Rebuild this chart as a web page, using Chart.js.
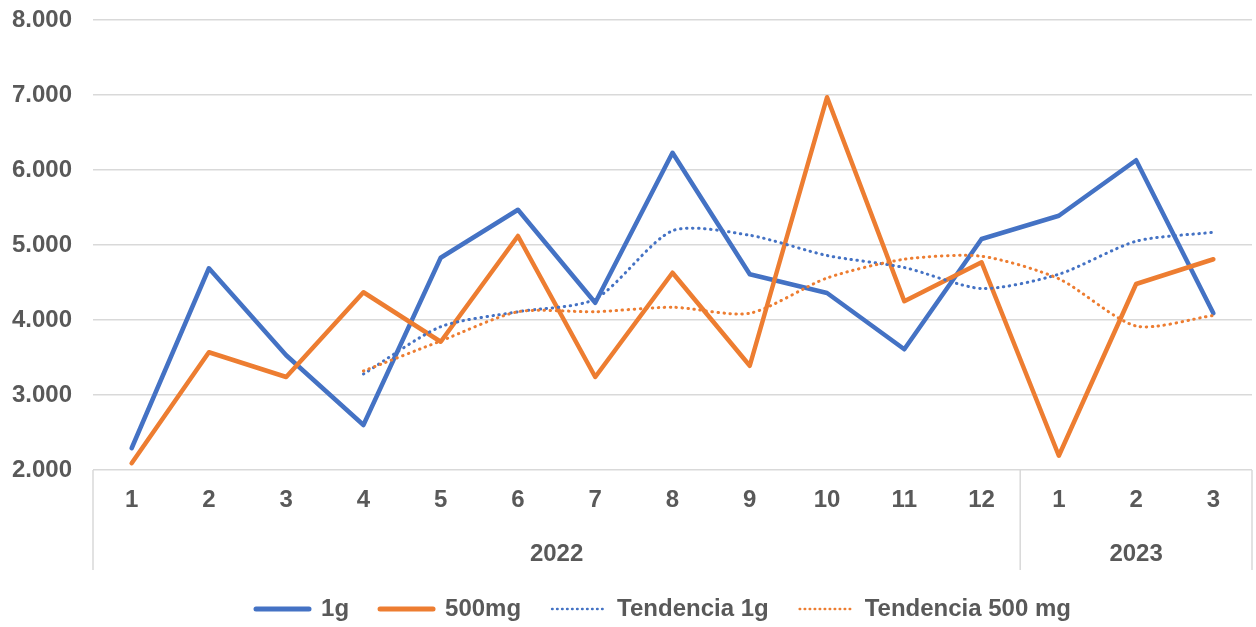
<!DOCTYPE html>
<html><head><meta charset="utf-8">
<script src="https://cdn.jsdelivr.net/npm/chart.js@4.4.0/dist/chart.umd.min.js"></script>
<style>html,body{margin:0;padding:0;background:#fff;}#wrap{width:1256px;height:627px;}</style>
</head><body><div id="wrap"><canvas id="c" width="1256" height="627"></canvas></div>
<script>
// ---- data ----
const months = ['1','2','3','4','5','6','7','8','9','10','11','12','1','2','3'];
const yearLabels = ['2022','2023'];
const yearSpans = [12, 3];
const series1g = [2290, 4690, 3530, 2600, 4830, 5470, 4230, 6230, 4610, 4360, 3610, 5080, 5390, 6130, 4090];
const series500mg = [2090, 3570, 3240, 4370, 3710, 5120, 3240, 4630, 3390, 6970, 4250, 4770, 2190, 4480, 4810];
const trend1g = [null, null, null, 3280, 3910, 4110, 4280, 5190, 5130, 4860, 4700, 4420, 4610, 5050, 5170];
const trend500mg = [null, null, null, 3320, 3720, 4110, 4110, 4170, 4090, 4560, 4810, 4850, 4550, 3920, 4060];
const seriesNames = ['1g', '500mg', 'Tendencia 1g', 'Tendencia 500 mg'];
const yMin = 2000, yMax = 8000, yStep = 1000;

const BLUE = '#4472C4', ORANGE = '#ED7D31', TEXT = '#595959', GRID = '#d9d9d9';
const FONT = "'Liberation Sans', Arial, sans-serif";
const FS = 24;
const DOTS = [0.5, 5.5];

function fmt(v){ return String(v).replace(/\B(?=(\d{3})+(?!\d))/g, '.'); }

const groupPlugin = {
  id: 'groups',
  afterLayout(chart){
    const lg = chart.legend, ca = chart.chartArea;
    const shift = -9;
    lg.left = ca.left + shift; lg.right = ca.right + shift;
  },
  afterDraw(chart){
    const x = chart.scales.x, ca = chart.chartArea, ctx = chart.ctx;
    const bottom = 570;
    ctx.save();
    ctx.strokeStyle = GRID; ctx.lineWidth = 1.5;
    let start = 0;
    const bounds = [ca.left];
    yearSpans.forEach((n) => {
      const end = start + n - 1;
      const right = (end === months.length - 1) ? ca.right : (x.getPixelForValue(end) + x.getPixelForValue(end + 1)) / 2;
      bounds.push(right);
      start += n;
    });
    bounds.forEach(b => { ctx.beginPath(); ctx.moveTo(b, ca.bottom); ctx.lineTo(b, bottom); ctx.stroke(); });
    ctx.fillStyle = TEXT;
    ctx.font = 'bold ' + FS + 'px ' + FONT;
    ctx.textAlign = 'center'; ctx.textBaseline = 'middle';
    yearLabels.forEach((lab, i) => {
      ctx.fillText(lab, (bounds[i] + bounds[i + 1]) / 2, 554);
    });
    ctx.restore();
  }
};

new Chart(document.getElementById('c'), {
  type: 'line',
  data: {
    labels: months,
    datasets: [
      { label: seriesNames[0], data: series1g, borderColor: BLUE, backgroundColor: BLUE, borderWidth: 4.5, pointRadius: 0, borderCapStyle: 'round', borderJoinStyle: 'round', order: 4 },
      { label: seriesNames[1], data: series500mg, borderColor: ORANGE, backgroundColor: ORANGE, borderWidth: 4.5, pointRadius: 0, borderCapStyle: 'round', borderJoinStyle: 'round', order: 3 },
      { label: seriesNames[2], data: trend1g, borderColor: BLUE, backgroundColor: BLUE, borderWidth: 3, borderDash: DOTS, borderCapStyle: 'round', tension: 0.25, pointRadius: 0, order: 2 },
      { label: seriesNames[3], data: trend500mg, borderColor: ORANGE, backgroundColor: ORANGE, borderWidth: 3, borderDash: DOTS, borderCapStyle: 'round', tension: 0.25, pointRadius: 0, order: 1 }
    ]
  },
  options: {
    responsive: false, animation: false, devicePixelRatio: 1,
    layout: { padding: { top: 20, right: 4, left: 0, bottom: 0 } },
    plugins: {
      tooltip: { enabled: false },
      legend: {
        position: 'bottom', align: 'center',
        labels: {
          usePointStyle: true, pointStyleWidth: 53, boxHeight: FS, padding: 31,
          color: TEXT, font: { family: FONT, size: FS, weight: 'bold' },
          generateLabels(chart){
            return chart.data.datasets.map((d, i) => ({
              text: d.label, pointStyle: 'line', strokeStyle: d.borderColor, fillStyle: d.borderColor,
              lineWidth: i < 2 ? 5 : 2.5, lineDash: i < 2 ? [] : [0.5, 4.5], lineCap: 'round',
              fontColor: TEXT, datasetIndex: i, hidden: false
            }));
          }
        }
      }
    },
    scales: {
      x: {
        type: 'category', offset: true,
        grid: { display: false, drawTicks: false }, border: { display: false },
        ticks: { color: TEXT, font: { family: FONT, size: FS, weight: 'bold' }, padding: 16, maxRotation: 0, autoSkip: false },
        afterFit(s){ s.height = 96; s.paddingLeft = 0; s.paddingRight = 0; }
      },
      y: {
        min: yMin, max: yMax,
        grid: { color: GRID, lineWidth: 1.5, drawTicks: false }, border: { display: false },
        ticks: { stepSize: yStep, color: TEXT, font: { family: FONT, size: FS, weight: 'bold' }, padding: 21, callback: v => fmt(v) },
        afterFit(s){ s.width = 93; s.paddingTop = 0; s.paddingBottom = 0; }
      }
    }
  },
  plugins: [groupPlugin, {
    id: 'legendFit',
    beforeInit(chart){
      const lg = chart.legend;
      const orig = lg.fit;
      lg.fit = function(){ orig.call(this); this.height = 61; };
    }
  }]
});
</script></body></html>
